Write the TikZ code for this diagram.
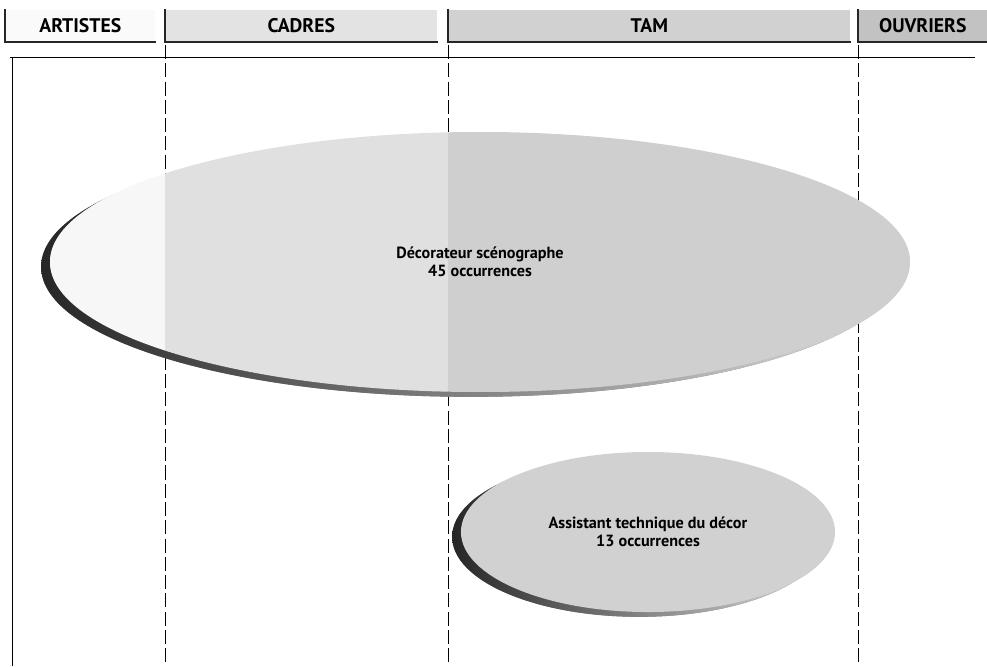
\documentclass[tikz,border=0pt]{standalone}
\usepackage{fontspec}
\setsansfont{PT Sans}
\usetikzlibrary{shapes.geometric,shadows}

\begin{document}
\begin{tikzpicture}[
  x=0.025cm, y=-0.025cm,
  tab/.style={anchor=south west, minimum height=0.8cm, inner sep=0pt,
    font=\sffamily\bfseries\fontsize{14}{16}\selectfont},
  tabedge/.style={line width=2pt, draw=black!85},
  column/.style={dash pattern=on 10pt off 3pt, line width=0.7pt},
  job/.style={ellipse, inner sep=0pt, align=center,
    font=\sffamily\bfseries\fontsize{11.5}{13}\selectfont},
  jobshadow/.style={drop shadow={shadow xshift=-0.22cm, shadow yshift=-0.12cm,
    left color=black!85, right color=gray!25, opacity=1}},
  colfill/.style={path picture={
    \fill[gray!6] (path picture bounding box.south west) rectangle (c1 |- path picture bounding box.north);
    \fill[gray!24] (c1 |- path picture bounding box.south) rectangle (c2 |- path picture bounding box.north);
    \fill[gray!38] (c2 |- path picture bounding box.south) rectangle (path picture bounding box.north east);
  }}
]
\useasboundingbox (0,0) rectangle (987,666);

% column borders
\coordinate (c1) at (165,45);
\coordinate (c2) at (448,45);
\coordinate (c3) at (858,45);

% header tabs
\node[tab, fill=gray!4, minimum width=3.75cm] (artistes) at (5,42) {ARTISTES};
\node[tab, fill=gray!22, minimum width=6.8cm] (cadres) at (165,42) {CADRES};
\node[tab, fill=gray!36, minimum width=10.05cm] (tam) at (448,42) {TAM};
\node[tab, fill=gray!48, minimum width=3.225cm] (ouvriers) at (858,42) {OUVRIERS};
\foreach \t in {artistes, cadres, tam, ouvriers}
  \draw[tabedge] (\t.north west) -- (\t.south west) -- (\t.south east);

% frame
\draw[line width=0.6pt] (10,57) -- (975,57);
\draw[line width=0.6pt] (12,57) -- (12,666);
\foreach \c in {c1, c2, c3}
  \draw[column] (\c) -- (\c |- 0,666);

% occupations
\node[job, colfill, jobshadow, minimum width=21.5cm, minimum height=6.5cm]
  (decorateur) at (480,262) {Décorateur scénographe\\45 occurrences};
\node[job, fill=gray!36, jobshadow, minimum width=9.35cm, minimum height=4cm]
  (assistant) at (648,532) {Assistant technique du décor\\13 occurrences};
\end{tikzpicture}
\end{document}
